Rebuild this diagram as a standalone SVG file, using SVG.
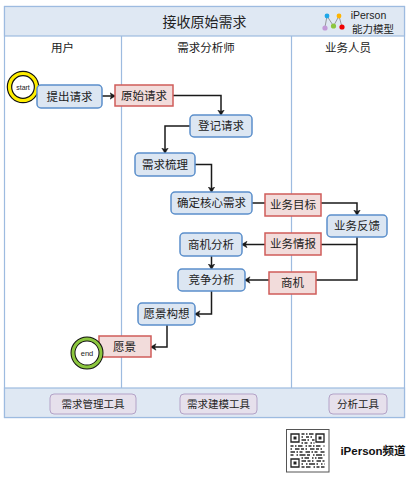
<svg xmlns="http://www.w3.org/2000/svg" width="413" height="484" viewBox="0 0 413 484">
<style>
text{font-family:"Liberation Sans","Noto Sans CJK SC",sans-serif;fill:#222;text-anchor:middle;dominant-baseline:central}
.frame{fill:#fff;stroke:#9dbbe0;stroke-width:1.2}
.band{fill:#dfe8f3;stroke:#9dbbe0;stroke-width:1.2}
.act rect{fill:#dce6f2;stroke:#5b8fcb;stroke-width:1.5}
.act text,.art text{font-size:11.500px}
.art rect{fill:#f2dcdb;stroke:#cf5c5a;stroke-width:1.5}
.tool rect{fill:#e6e0ec;stroke:#b3a2c7;stroke-width:1}
.tool text{font-size:10.500px}
.lane{font-size:11.500px}
.c{fill:none;stroke:#1a1a1a;stroke-width:1.5}
.q{fill:none;stroke:#2a2a2a;stroke-width:1.500}
</style>
<defs>
<marker id="a" markerWidth="7" markerHeight="8" refX="5.500" refY="4" orient="auto" markerUnits="userSpaceOnUse"><path d="M0.500 0.800L6 4L0.500 7.200L2 4Z" fill="#1a1a1a" stroke="#1a1a1a" stroke-width=".5"/></marker>
</defs>
<g id="frame">
<rect class="frame" x="4.500" y="6.500" width="400" height="411"/>
<rect class="band" x="4.500" y="6.500" width="400" height="29.500"/>
<rect class="band" x="4.500" y="388" width="400" height="29.500"/>
<path d="M121.500 36V388M291.500 36V388" stroke="#9dbbe0" stroke-width="1.200" fill="none"/>
<text x="204.500" y="21.500" font-size="14">接收原始需求</text>
<text class="lane" x="62.500" y="47.500">用户</text>
<text class="lane" x="206" y="47.500">需求分析师</text>
<text class="lane" x="348" y="47.500">业务人员</text>
</g>
<g id="logo">
<path d="M325 27L327 16L333.500 26L339 16L342 27" fill="none" stroke="#777" stroke-width=".7"/>
<circle cx="327" cy="16" r="2.400" fill="#1ea7e8"/><circle cx="339" cy="16" r="2.400" fill="#ffb400"/>
<circle cx="325" cy="28" r="2.600" fill="#c39bd8"/><circle cx="333.500" cy="26" r="2.600" fill="#8cc63f"/><circle cx="342" cy="27" r="2.600" fill="#f00000"/>
<text x="368.500" y="15" font-size="10.500">iPerson</text>
<text x="373" y="28.500" font-size="10.500">能力模型</text>
</g>
<g id="connectors">
<path class="c" d="M102 96H115" marker-end="url(#a)"/>
<path class="c" d="M173 95.500H221V115" marker-end="url(#a)"/>
<path class="c" d="M190 126H165V153" marker-end="url(#a)"/>
<path class="c" d="M195 164.500H211.500V192" marker-end="url(#a)"/>
<path class="c" d="M252 203H265"/>
<path class="c" d="M321 203H357V215" marker-end="url(#a)"/>
<path class="c" d="M357 237V280H316"/>
<path class="c" d="M357 244.500H321"/>
<path class="c" d="M265 244.500H242" marker-end="url(#a)"/>
<path class="c" d="M269 280H245" marker-end="url(#a)"/>
<path class="c" d="M211.500 256V269" marker-end="url(#a)"/>
<path class="c" d="M211.500 291V314H195" marker-end="url(#a)"/>
<path class="c" d="M167 325V347H151" marker-end="url(#a)"/>
</g>
<g id="start"><circle cx="23" cy="87" r="13.500" fill="#fff" stroke="#111" stroke-width="5.500"/><circle cx="23" cy="87" r="13.500" fill="none" stroke="#ffee00" stroke-width="3.200"/><text x="23" y="87" font-size="7">start</text></g>
<g id="n1" class="act"><rect x="37" y="85" width="65" height="23" rx="4"/><text x="69.500" y="96.500">提出请求</text></g>
<g id="n2" class="art"><rect x="115" y="85" width="58" height="21"/><text x="144" y="95.500">原始请求</text></g>
<g id="n3" class="act"><rect x="190" y="115" width="62" height="22" rx="4"/><text x="221" y="126">登记请求</text></g>
<g id="n4" class="act"><rect x="135" y="153" width="60" height="23" rx="4"/><text x="165" y="164.500">需求梳理</text></g>
<g id="n5" class="act"><rect x="171" y="192" width="81" height="22" rx="4"/><text x="211.500" y="203">确定核心需求</text></g>
<g id="n6" class="art"><rect x="265" y="194" width="56" height="22"/><text x="293" y="205">业务目标</text></g>
<g id="n7" class="act"><rect x="327" y="215" width="60" height="22" rx="4"/><text x="357" y="226">业务反馈</text></g>
<g id="n8" class="act"><rect x="180" y="233" width="62" height="23" rx="4"/><text x="211" y="244.500">商机分析</text></g>
<g id="n9" class="art"><rect x="265" y="233" width="56" height="22"/><text x="293" y="244">业务情报</text></g>
<g id="n10" class="act"><rect x="178" y="269" width="67" height="22" rx="4"/><text x="211.500" y="280">竞争分析</text></g>
<g id="n11" class="art"><rect x="269" y="272" width="47" height="22"/><text x="292.500" y="283">商机</text></g>
<g id="n12" class="act"><rect x="138" y="303" width="57" height="22" rx="4"/><text x="166.500" y="314">愿景构想</text></g>
<g id="n13" class="art"><rect x="99" y="336" width="52" height="21"/><text x="124.500" y="346.500">愿景</text></g>
<g id="end"><circle cx="87" cy="353" r="14" fill="#fff" stroke="#111" stroke-width="5"/><circle cx="87" cy="353" r="14" fill="none" stroke="#8cc63f" stroke-width="3"/><text x="87" y="353" font-size="7.500">end</text></g>
<g id="t1" class="tool"><rect x="50" y="394" width="86" height="20" rx="4"/><text x="93" y="404">需求管理工具</text></g>
<g id="t2" class="tool"><rect x="180" y="394" width="77" height="20" rx="4"/><text x="218.500" y="404">需求建模工具</text></g>
<g id="t3" class="tool"><rect x="329" y="394" width="58" height="20" rx="4"/><text x="358" y="404">分析工具</text></g>
<g id="qr">
<rect x="286.500" y="429.500" width="42.500" height="42.500" fill="#fff" stroke="#555"/>
<path fill="none" stroke="#222" stroke-width="1.300" d="M291 434h8v8h-8zM316 434h8v8h-8zM291 459h8v8h-8z"/>
<path fill="#222" d="M293.500 436.500h3v3h-3zM318.500 436.500h3v3h-3zM293.500 461.500h3v3h-3z"/>
<path class="q" stroke-dasharray="3 1.500 1.500 1.500 4.500 1.500" d="M301.500 434h13"/>
<path class="q" stroke-dasharray="1.500 3 3 1.500" d="M301.500 437h13"/>
<path class="q" stroke-dasharray="4.500 1.500 1.500 3" d="M301.500 440h13"/>
<path class="q" stroke-dasharray="1.500 1.500 3 3" d="M301.500 443h13"/>
<path class="q" stroke-dasharray="3 1.500 1.500 1.500 4.500 3 1.500 1.500" d="M290.500 446h34"/>
<path class="q" stroke-dasharray="1.500 3 4.500 1.500 3 1.500" d="M290.500 449h34"/>
<path class="q" stroke-dasharray="4.500 1.500 1.500 1.500 3 3" d="M290.500 452h34"/>
<path class="q" stroke-dasharray="3 3 1.500 1.500 6 1.500" d="M290.500 455h34"/>
<path class="q" stroke-dasharray="1.500 1.500 4.500 3 1.500 1.500" d="M301.500 458h23"/>
<path class="q" stroke-dasharray="4.500 1.500 3 1.500 1.500 3" d="M301.500 461h23"/>
<path class="q" stroke-dasharray="1.500 3 1.500 1.500 6 1.500" d="M301.500 464h23"/>
<path class="q" stroke-dasharray="3 1.500 4.500 3 1.500 1.500" d="M301.500 467h23"/>
</g>
<text x="373" y="451" font-size="11.500" font-weight="700" style="fill:#111">iPerson频道</text>
</svg>
